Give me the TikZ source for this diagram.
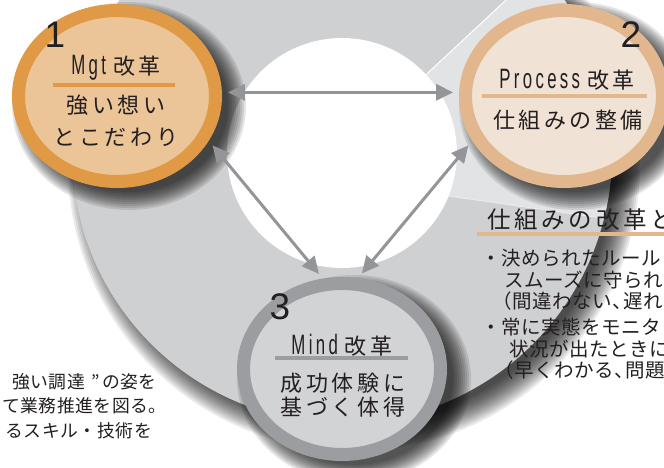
\documentclass[tikz,border=0pt]{standalone}
\usepackage{fontspec}
\setmainfont{Noto Sans CJK JP}
\newfontfamily\jpbody{Noto Sans CJK JP}[LetterSpace=16]
\newfontfamily\jpnote{Noto Sans CJK JP}[LetterSpace=3]
\newfontfamily\latcond{Liberation Sans}[FakeStretch=0.6,LetterSpace=12]
\newfontfamily\numfont{Liberation Sans}
\usetikzlibrary{shapes.geometric,arrows.meta}
\definecolor{ink}{HTML}{231F20}
\definecolor{mgtring}{HTML}{E09A45}
\definecolor{mgtfill}{HTML}{EBC497}
\definecolor{procring}{HTML}{E3B78D}
\definecolor{procfill}{HTML}{F0E3D6}
\definecolor{mindring}{HTML}{9C9DA0}
\definecolor{mindfill}{HTML}{D2D3D5}
\definecolor{ringgray}{HTML}{CFD0D2}
\definecolor{ringlight}{HTML}{E2E3E5}
\definecolor{arrowgray}{HTML}{939598}
\newcommand\latin[1]{{\latcond\fontsize{28}{22}\selectfont #1}\hspace{7pt}}
\newcommand\halfcomma{、\kern-9pt}
\begin{document}
\begin{tikzpicture}[x=1pt,y=-1pt,
    bubble/.style={ellipse,line width=13pt,minimum width=197pt,minimum height=171pt,inner sep=0pt},
    haze/.style={fill=black,opacity=0.08},
    bubblehaze/.style={fill=black,opacity=0.1},
    nummark/.style={font=\numfont\fontsize{37}{37}\selectfont,text=ink,inner sep=0pt},
    headline/.style={font=\jpbody\fontsize{22}{22}\selectfont,text=ink,inner sep=0pt},
    bodyline/.style={font=\jpbody\fontsize{22}{22}\selectfont,text=ink,inner sep=0pt},
    noteline/.style={font=\jpnote\fontsize{19.5}{19.5}\selectfont,text=ink,inner sep=0pt},
    sidenote/.style={font=\jpnote\fontsize{17.8}{17.8}\selectfont,text=ink,inner sep=0pt},
    rulebar/.style={minimum height=4pt,inner sep=0pt,outer sep=0pt},
    link/.style={arrowgray,line width=3pt,{Triangle[length=17pt,width=16pt]}-{Triangle[length=17pt,width=16pt]},
      shorten <=6pt,shorten >=6pt}]
  \useasboundingbox (0,0) rectangle (664,467);
  \fill[white] (0,0) rectangle (664,467);
  \foreach \k in {0,...,13}
    \fill[haze] (354,165) circle[radius={(286-2*\k)*1pt}];
  \fill[ringgray] (342,153) circle[radius=270pt];
  \begin{scope}[shift={(342,153)}]
    \fill[ringlight] (43:270pt) arc[start angle=43,end angle=-14,radius=270pt]
      -- (-22:115pt) arc[start angle=-22,end angle=43,radius=115pt] -- cycle;
    \draw[white,line width=1pt] (43:115pt) -- (43:270pt);
    \draw[white!60!ringgray,line width=0.8pt] (-22:115pt) -- (-14:270pt);
    \fill[white] (0,0) circle[radius=115pt];
  \end{scope}

  \foreach \cx/\cy in {117/96,564/96,342/369}
    \foreach \k in {0,...,9}
      \fill[bubblehaze] (\cx+12,\cy+10) ellipse[x radius={(117-2*\k)*1pt},y radius={(104-2*\k)*1pt}];
  \node[bubble,draw=mgtring,fill=mgtfill] (mgt) at (117,96) {};
  \node[bubble,draw=procring,fill=procfill] (proc) at (564,96) {};
  \node[bubble,draw=mindring,fill=mindfill] (mind) at (342,369) {};

  \node[nummark] (mgtnum) at (55,35) {1};
  \node[headline] (mgthead) at (116,68) {\latin{Mgt}改革};
  \node[rulebar,fill=mgtring,minimum width=122pt] (mgtrule) at (114,85) {};
  \node[bodyline] (mgtbody) at (116,105) {強い想い};
  \node[bodyline] (mgtbody2) at (116,137) {とこだわり};

  \node[nummark] (procnum) at (631,35) {2};
  \node[headline] (prochead) at (567,80) {\latin{Process}改革};
  \node[rulebar,fill=procring,minimum width=165pt] (procrule) at (564,96) {};
  \node[bodyline] (procbody) at (568,120) {仕組みの整備};

  \node[nummark] (mindnum) at (280,307) {3};
  \node[headline] (mindhead) at (342,345) {\latin{Mind}改革};
  \node[rulebar,fill=mindring,minimum width=133pt] (mindrule) at (341,358) {};
  \node[bodyline] (mindbody) at (343,383) {成功体験に};
  \node[bodyline] (mindbody2) at (343,407) {基づく体得};

  \begin{scope}[link]
    \draw (mgt.2) to (proc.178);
    \draw (mgt.-26) to (mind.102);
    \draw (proc.206) to (mind.80);
  \end{scope}

  \node[headline,anchor=west,font=\jpbody\fontsize{23.5}{23.5}\selectfont] (ptitle) at (487,220) {仕組みの改革と};
  \node[rulebar,fill=procring,minimum width=200pt] (ptrule) at (577,234) {};
  \node[noteline,anchor=west] (pnote1) at (481,258) {・決められたルール};
  \node[noteline,anchor=west] (pnote2) at (504,280) {スムーズに守られ};
  \node[noteline,anchor=west] (pnote3) at (492,301) {（間違わない\halfcomma 遅れ};
  \node[noteline,anchor=west] (pnote4) at (481,327) {・常に実態をモニタ};
  \node[noteline,anchor=west] (pnote5) at (509,349) {状況が出たときに};
  \node[noteline,anchor=west] (pnote6) at (494,370) {（早くわかる\halfcomma 問題};

  \node[sidenote,anchor=east] (lnote1) at (157,382) {強い調達\hspace{7pt}”\hspace{2pt}の姿を};
  \node[sidenote,anchor=east] (lnote2) at (167,406) {て業務推進を図る。};
  \node[sidenote,anchor=east] (lnote3) at (152,431) {るスキル・技術を};
  \node[sidenote,anchor=base west] (topnote) at (2,-4) {る。};
\end{tikzpicture}
\end{document}
